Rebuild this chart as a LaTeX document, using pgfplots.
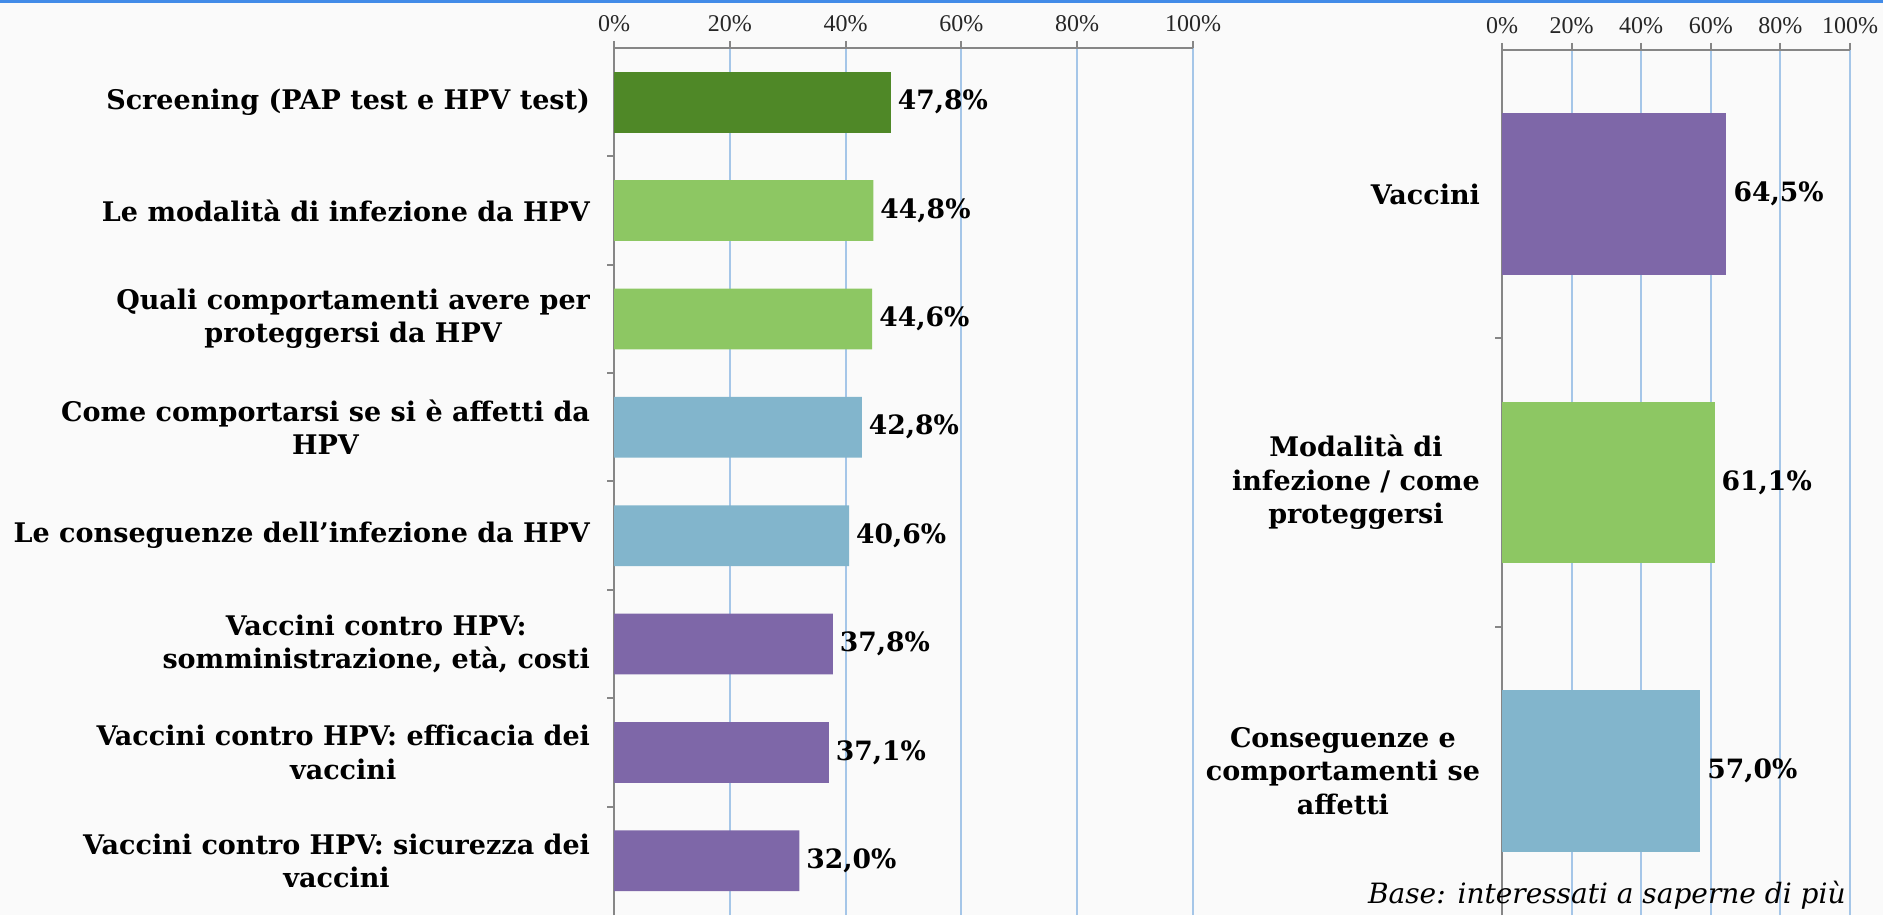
\documentclass[border=0pt]{standalone}
\usepackage{fontspec}
\setmainfont{DejaVu Serif}
\newfontfamily\tickfont{Liberation Serif}
\usepackage{pgfplots}
\pgfplotsset{compat=1.18}
\definecolor{dkgreen}{RGB}{79,136,39}
\definecolor{ltgreen}{RGB}{141,199,99}
\definecolor{ltblue}{RGB}{130,181,204}
\definecolor{purp}{RGB}{126,103,168}
\definecolor{gridblue}{RGB}{165,198,232}
\definecolor{axgray}{RGB}{134,134,134}
\definecolor{topblue}{RGB}{66,139,232}
\definecolor{bg}{RGB}{250,250,250}
\pgfplotsset{
  mystyle/.style={
    scale only axis, anchor=south west,
    xbar, bar shift=0pt, bar width=0.56,
    xmin=0, xmax=100,
    axis x line*=top, axis y line*=left,
    axis line style={draw=axgray, line width=1pt},
    tick align=outside,
    xtick={0,20,...,100},
    xticklabel={\pgfmathprintnumber{\tick}\%},
    xticklabel style={font=\tickfont\fontsize{12}{14}\selectfont, text=black!85, yshift=1pt},
    /pgf/number format/assume math mode=true,
    xmajorgrids, grid style={draw=gridblue, line width=1pt},
    major x tick style={draw=axgray, line width=1pt},
    major tick length=3.5pt,
    major y tick style={draw=none},
    minor y tick style={draw=axgray, line width=1pt},
    minor tick length=3.5pt,
    yticklabel style={font=\bfseries\fontsize{13.5}{16.8}\selectfont, align=center},
    point meta=x,
    nodes near coords={\pgfmathprintnumber[fixed,fixed zerofill,precision=1,use comma,assume math mode=true]{\pgfplotspointmeta}\%},
    nodes near coords style={font=\bfseries\fontsize{13.3}{16}\selectfont, text=black},
    every axis plot/.append style={draw=none},
  }
}
\begin{document}
\begin{tikzpicture}
\useasboundingbox (0,0) rectangle (941.5pt,457.5pt);
\fill[bg] (0,0) rectangle (941.5pt,457.5pt);
\fill[topblue] (0,456pt) rectangle (941.5pt,457.5pt);
\begin{axis}[mystyle,
  at={(307pt,0pt)}, width=289.5pt, height=433.5pt,
  ymin=-0.5, ymax=7.5,
  ytick={0,...,7},
  minor ytick={0.5,1.5,...,6.5},
  yticklabel style={xshift=-5pt},
  yticklabels={
    {Vaccini contro HPV: sicurezza dei\\vaccini},
    {Vaccini contro HPV: efficacia dei\\vaccini},
    {Vaccini contro HPV:\\somministrazione, età, costi},
    {Le conseguenze dell’infezione da HPV},
    {Come comportarsi se si è affetti da\\HPV},
    {Quali comportamenti avere per\\proteggersi da HPV},
    {Le modalità di infezione da HPV},
    {Screening (PAP test e HPV test)}
  },
]
\addplot[fill=purp] coordinates {(32.0,0) (37.1,1) (37.8,2)};
\addplot[fill=ltblue] coordinates {(40.6,3) (42.8,4)};
\addplot[fill=ltgreen] coordinates {(44.6,5) (44.8,6)};
\addplot[fill=dkgreen] coordinates {(47.8,7)};
\end{axis}
\begin{axis}[mystyle,
  at={(751pt,0pt)}, width=174pt, height=432.5pt,
  ymin=-0.5, ymax=2.5,
  ytick={0,1,2},
  minor ytick={0.5,1.5},
  yticklabel style={xshift=-4pt},
  yticklabels={
    {Conseguenze e\\comportamenti se\\affetti},
    {Modalità di\\infezione / come\\proteggersi},
    {Vaccini}
  },
]
\addplot[fill=ltblue] coordinates {(57.0,0)};
\addplot[fill=ltgreen] coordinates {(61.1,1)};
\addplot[fill=purp] coordinates {(64.5,2)};
\end{axis}
\node[anchor=base east, font=\itshape\fontsize{14}{16}\selectfont, inner sep=0pt] at (923pt,5.5pt) {Base: interessati a saperne di più};
\end{tikzpicture}
\end{document}
